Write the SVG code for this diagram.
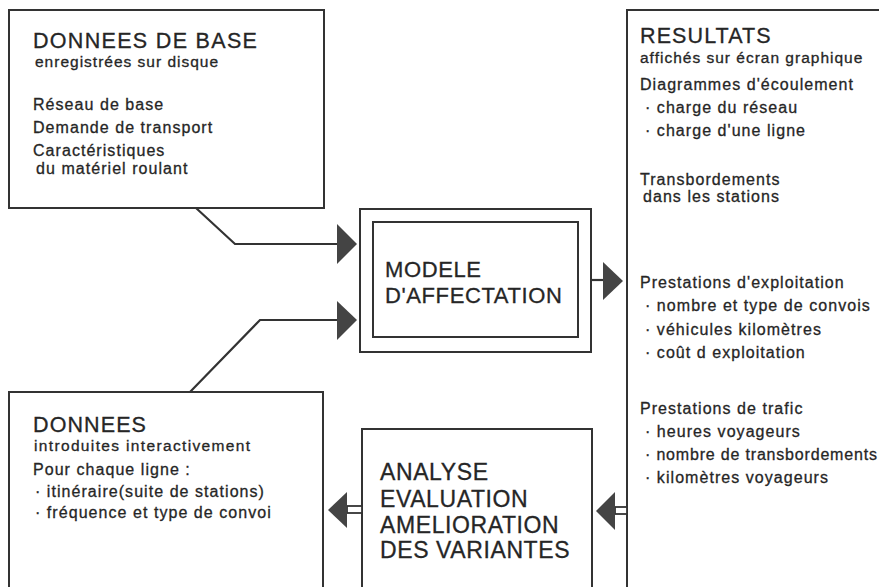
<svg xmlns="http://www.w3.org/2000/svg" width="879" height="587" viewBox="0 0 879 587">
<style>
text{font-family:"Liberation Sans",Arial,sans-serif;fill:#262626;stroke:#262626;stroke-width:0.3px}
.t{font-size:21.5px;letter-spacing:1.1px}
.s{font-size:15.5px;letter-spacing:1px}
.b{font-size:16px;letter-spacing:1.05px}
.m{font-size:22px;letter-spacing:0.6px}
.a{font-size:23px;letter-spacing:0.6px}
.box{fill:#fff;stroke:#333;stroke-width:2}
.ln{fill:none;stroke:#333;stroke-width:2.2;stroke-linejoin:miter}
.hd{fill:#444;stroke:none}
</style>
<rect width="879" height="587" fill="#fff"/>
<g id="base">
<rect class="box" x="9" y="10" width="315" height="198"/>
<text class="t" x="33" y="48" textLength="225" lengthAdjust="spacing">DONNEES DE BASE</text>
<text class="s" x="35" y="67">enregistrées sur disque</text>
<text class="b" x="33" y="110">Réseau de base</text>
<text class="b" x="33" y="133">Demande de transport</text>
<text class="b" x="33" y="156">Caractéristiques</text>
<text class="b" x="36" y="174">du matériel roulant</text>
</g>
<g id="resultats">
<path class="box" d="M890 10 H627 V600"/>
<text class="t" x="640" y="43">RESULTATS</text>
<text class="s" x="640" y="63">affichés sur écran graphique</text>
<text class="b" x="640" y="90">Diagrammes d'écoulement</text>
<text class="b" x="645" y="113">· charge du réseau</text>
<text class="b" x="645" y="136">· charge d'une ligne</text>
<text class="b" x="640" y="185">Transbordements</text>
<text class="b" x="643" y="202">dans les stations</text>
<text class="b" x="640" y="288">Prestations d'exploitation</text>
<text class="b" x="645" y="311">· nombre et type de convois</text>
<text class="b" x="645" y="335">· véhicules kilomètres</text>
<text class="b" x="645" y="358">· coût d exploitation</text>
<text class="b" x="640" y="414">Prestations de trafic</text>
<text class="b" x="645" y="437">· heures voyageurs</text>
<text class="b" x="645" y="460" textLength="233" lengthAdjust="spacing">· nombre de transbordements</text>
<text class="b" x="645" y="483">· kilomètres voyageurs</text>
</g>
<g id="modele">
<rect class="box" x="360" y="209" width="231" height="143"/>
<rect class="box" x="373" y="222" width="205" height="115"/>
<text class="m" x="385" y="277">MODELE</text>
<text class="m" x="385" y="303">D'AFFECTATION</text>
</g>
<g id="donnees">
<path class="box" d="M9 600 V392 H323 V600"/>
<text class="t" x="33" y="432">DONNEES</text>
<text class="s" x="34" y="451" textLength="217" lengthAdjust="spacing">introduites interactivement</text>
<text class="b" x="33" y="475">Pour chaque ligne :</text>
<text class="b" x="35" y="497">· itinéraire(suite de stations)</text>
<text class="b" x="35" y="518">· fréquence et type de convoi</text>
</g>
<g id="analyse">
<path class="box" d="M362 600 V429 H592 V600"/>
<text class="a" x="380" y="480">ANALYSE</text>
<text class="a" x="380" y="507">EVALUATION</text>
<text class="a" x="380" y="533">AMELIORATION</text>
<text class="a" x="380" y="558">DES VARIANTES</text>
</g>
<g id="connectors">
<path class="ln" d="M196 208 L235 244 H338"/>
<polygon class="hd" points="337,224 357,244 337,264"/>
<path class="ln" d="M190 392 L260 320 H338"/>
<polygon class="hd" points="337,301 357,320 337,340"/>
<path class="ln" d="M591 280 H604"/>
<polygon class="hd" points="603,262 623,281 603,300"/>
<rect x="615" y="507" width="12" height="7" fill="#fff" stroke="#333" stroke-width="1.8"/>
<polygon class="hd" points="615,492 596,511 615,530"/>
<rect x="347" y="506" width="15" height="7" fill="#fff" stroke="#333" stroke-width="1.8"/>
<polygon class="hd" points="347,492 328,510 347,528"/>
</g>
</svg>
